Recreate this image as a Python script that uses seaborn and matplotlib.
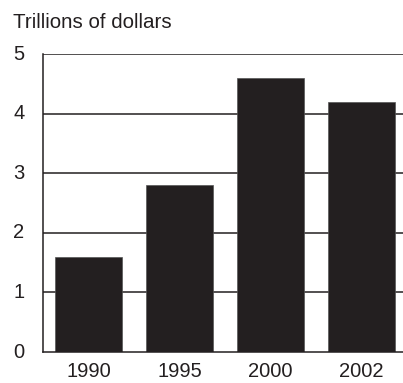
import matplotlib
matplotlib.use("Agg")
import matplotlib.pyplot as plt
import seaborn as sns
import pandas as pd

years = ["1990", "1995", "2000", "2002"]
values = [1.6, 2.8, 4.6, 4.2]
yticks = [0, 1, 2, 3, 4, 5]

sns.set_theme(style="white")
plt.rcParams['font.family'] = ['Liberation Sans', 'DejaVu Sans']

df = pd.DataFrame({"year": years, "value": values})

fig = plt.figure(figsize=(4.03, 3.83), dpi=100)
ax = fig.add_axes([43/403, 1 - 352/383, 364/403, (352-54)/383])

for y in yticks[1:]:
    ax.axhline(y, color="#231f20", lw=1.1, zorder=0)

sns.barplot(data=df, x="year", y="value", color="#231f20", width=0.736,
            saturation=1, edgecolor="#555555", linewidth=0.5, ax=ax, zorder=2)

ax.set_xlim(-0.5, 3.5)
ax.set_ylim(0, 5)
ax.set_yticks(yticks)
ax.set_xlabel("")
ax.set_ylabel("")
for s in ["top", "right"]:
    ax.spines[s].set_visible(False)
for s in ["left", "bottom"]:
    ax.spines[s].set_color("#231f20")
    ax.spines[s].set_linewidth(1.1)
ax.tick_params(axis="both", length=0, labelsize=14.5, colors="#231f20")
ax.tick_params(axis="y", pad=13.5)
ax.tick_params(axis="x", pad=7.5)
for lbl in ax.get_yticklabels():
    lbl.set_verticalalignment("center")

fig.text(13/403, 1 - 28/383, "Trillions of dollars", fontsize=14.8, color="#231f20",
         ha="left", va="baseline")

fig.savefig("out.png", dpi=100)
